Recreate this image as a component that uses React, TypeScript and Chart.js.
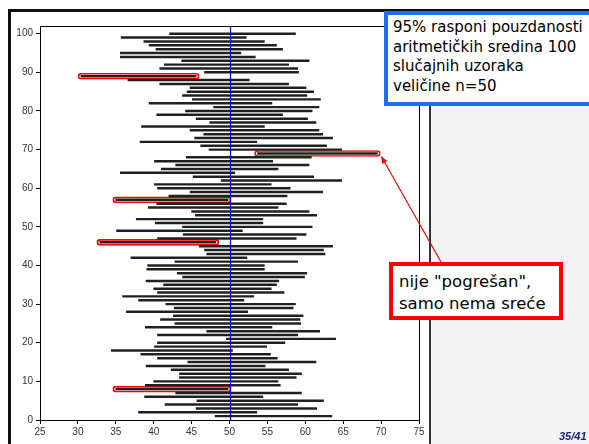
import React, { useEffect, useRef } from "react";
import { Chart, registerables } from "chart.js";

Chart.register(...registerables);

// sample index 1..100
const SAMPLE_IDS = Array.from({ length: 100 }, (_, i) => i + 1);

const LOWER = [
  48.1, 38.0, 45.6, 41.5, 45.7, 38.8, 42.9, 35.0, 38.9, 40.0,
  43.4, 43.4, 42.3, 39.0, 44.5, 40.5, 38.3, 34.4, 40.1, 40.5,
  49.6, 40.5, 47.0, 38.9, 42.8, 40.9, 42.6, 36.4, 42.7, 41.6,
  38.0, 35.9, 40.5, 40.0, 41.3, 39.0, 43.8, 43.1, 39.1, 39.2,
  42.8, 37.0, 47.0, 46.7, 46.0, 32.9, 40.5, 43.9, 35.1, 43.8,
  40.2, 37.7, 45.5, 45.0, 39.3, 40.4, 35.0, 42.0, 44.8, 40.5,
  40.1, 48.9, 45.2, 35.6, 41.0, 42.9, 40.1, 44.3, 53.7, 47.3,
  46.2, 38.2, 45.4, 46.6, 44.8, 38.4, 47.4, 45.6, 40.4, 44.2,
  47.9, 39.4, 45.1, 43.8, 44.4, 44.8, 40.8, 36.6, 30.4, 46.7,
  40.8, 41.4, 43.7, 35.6, 35.6, 40.3, 39.4, 38.7, 35.7, 42.1,
];

const UPPER = [
  63.5, 53.6, 61.5, 59.0, 62.4, 54.4, 59.5, 49.8, 56.7, 56.4,
  58.8, 59.5, 57.8, 54.7, 61.4, 56.3, 55.4, 50.4, 54.9, 57.3,
  64.0, 59.0, 61.9, 55.6, 59.4, 59.3, 59.7, 52.4, 58.4, 58.7,
  51.9, 53.2, 57.2, 55.5, 56.2, 56.5, 59.9, 60.2, 54.6, 54.6,
  59.0, 52.3, 62.6, 62.4, 63.6, 48.2, 58.8, 60.1, 51.7, 60.9,
  54.4, 54.4, 61.5, 60.5, 56.4, 57.5, 49.8, 57.6, 62.3, 58.0,
  55.5, 64.8, 61.1, 50.7, 56.4, 60.5, 55.7, 60.8, 69.5, 64.8,
  62.8, 53.6, 63.6, 62.3, 61.8, 54.6, 61.4, 60.3, 57.0, 60.9,
  61.8, 55.6, 62.0, 60.2, 61.1, 60.1, 57.8, 52.6, 45.6, 59.1,
  59.0, 57.8, 60.5, 53.4, 51.5, 57.0, 56.2, 54.6, 52.2, 58.7,
];

// samples whose interval misses the true mean
const MISSES = [8, 46, 57, 69, 89];
const TRUE_MEAN = 50;
const POINTED_SAMPLE = 69;

const X_TICKS = [25, 30, 35, 40, 45, 50, 55, 60, 65, 70, 75];
const Y_TICKS = [0, 10, 20, 30, 40, 50, 60, 70, 80, 90, 100];

const INFO_LINES = [
  "95% rasponi pouzdanosti",
  "aritmetičkih sredina 100",
  "slučajnih uzoraka",
  "veličine n=50",
];
const NOTE_LINES = ['nije "pogrešan",', "samo nema sreće"];
const PAGE_LABEL = "35/41";

const slidePlugin = {
  id: "slide",
  beforeDraw(chart: any) {
    const ctx = chart.ctx;
    ctx.save();
    ctx.fillStyle = "#ffffff";
    ctx.fillRect(0, 0, chart.width, chart.height);
    ctx.fillStyle = "#f3f3f3";
    ctx.fillRect(431, 11, chart.width - 431, chart.height - 11);
    ctx.fillStyle = "#111";
    ctx.fillRect(8, 9, chart.width - 8, 3);
    ctx.fillRect(8, 9, 3, chart.height - 9);
    ctx.fillStyle = "#333";
    ctx.fillRect(429, 11, 2, chart.height - 11);
    ctx.restore();
  },
  afterDatasetsDraw(chart: any) {
    const ctx = chart.ctx;
    const { top, bottom, right } = chart.chartArea;
    const x = chart.scales.x.getPixelForValue(TRUE_MEAN);
    ctx.save();
    ctx.strokeStyle = "#0000dd";
    ctx.lineWidth = 1.2;
    ctx.beginPath();
    ctx.moveTo(Math.round(x) + 0.5, top);
    ctx.lineTo(Math.round(x) + 0.5, bottom);
    ctx.stroke();
    // plot frame top/right
    ctx.strokeStyle = "#000";
    ctx.lineWidth = 1;
    ctx.beginPath();
    ctx.moveTo(chart.chartArea.left, Math.round(top) + 0.5);
    ctx.lineTo(Math.round(right) + 0.5, Math.round(top) + 0.5);
    ctx.lineTo(Math.round(right) + 0.5, bottom);
    ctx.stroke();
    ctx.restore();
  },
  afterDraw(chart: any) {
    const ctx = chart.ctx;
    const idx = POINTED_SAMPLE - 1;
    const tipX = chart.scales.x.getPixelForValue(UPPER[idx]) + 4;
    const tipY = chart.scales.y.getPixelForValue(POINTED_SAMPLE) + 3;
    const sx = 441;
    const sy = 262;
    const ang = Math.atan2(tipY - sy, tipX - sx);
    ctx.save();
    ctx.strokeStyle = "#ff0000";
    ctx.fillStyle = "#ff0000";
    ctx.lineWidth = 1.2;
    ctx.beginPath();
    ctx.moveTo(sx, sy);
    ctx.lineTo(tipX, tipY);
    ctx.stroke();
    const L = 7;
    const W = 3;
    ctx.beginPath();
    ctx.moveTo(tipX, tipY);
    ctx.lineTo(
      tipX - L * Math.cos(ang) + W * Math.sin(ang),
      tipY - L * Math.sin(ang) - W * Math.cos(ang)
    );
    ctx.lineTo(
      tipX - L * Math.cos(ang) - W * Math.sin(ang),
      tipY - L * Math.sin(ang) + W * Math.cos(ang)
    );
    ctx.closePath();
    ctx.fill();
    ctx.restore();
  },
};

export default function App() {
  const ref = useRef<HTMLCanvasElement | null>(null);

  useEffect(() => {
    document.body.style.margin = "0";
    const canvas = ref.current;
    if (!canvas) return;

    const intervals = SAMPLE_IDS.map((id, i) => ({
      y: id,
      x: [LOWER[i], UPPER[i]],
    }));
    const outlines = MISSES.map((id) => ({
      y: id,
      x: [LOWER[id - 1] - 0.4, UPPER[id - 1] + 0.4],
    }));

    const tickFont = { family: "'Liberation Sans', Arial, sans-serif", size: 10 };

    const chart = new Chart(canvas, {
      type: "bar",
      data: {
        datasets: [
          {
            data: intervals as any,
            backgroundColor: "#202020",
            borderWidth: 0,
            barThickness: 1.8,
            grouped: false,
          } as any,
          {
            data: outlines as any,
            backgroundColor: "rgba(255,255,255,0)",
            borderColor: "#ff0000",
            borderWidth: 1,
            borderSkipped: false,
            borderRadius: 3,
            barThickness: 6,
            grouped: false,
          } as any,
        ],
      },
      options: {
        indexAxis: "y",
        responsive: false,
        animation: false,
        devicePixelRatio: 1,
        layout: { padding: { left: 8, right: 170, top: 26, bottom: 0 } },
        plugins: {
          legend: { display: false },
          tooltip: { enabled: false },
        },
        scales: {
          x: {
            type: "linear",
            min: 25,
            max: 75,
            offset: false,
            afterBuildTicks: (s: any) => {
              s.ticks = X_TICKS.map((v) => ({ value: v }));
            },
            afterFit: (s: any) => {
              s.height = 24;
            },
            grid: {
              display: true,
              drawOnChartArea: false,
              drawTicks: true,
              tickLength: 4,
              color: "#000",
              offset: false,
            },
            border: { display: true, color: "#000", width: 1 },
            ticks: {
              color: "#333",
              font: tickFont,
              padding: 2,
              maxRotation: 0,
              autoSkip: false,
            },
          },
          y: {
            type: "linear",
            min: 0,
            max: 102,
            offset: false,
            afterBuildTicks: (s: any) => {
              s.ticks = Y_TICKS.map((v) => ({ value: v }));
            },
            afterFit: (s: any) => {
              s.width = 32;
            },
            grid: {
              display: true,
              drawOnChartArea: false,
              drawTicks: true,
              tickLength: 4,
              color: "#000",
              offset: false,
            },
            border: { display: true, color: "#000", width: 1 },
            ticks: {
              color: "#333",
              font: tickFont,
              padding: 3,
              autoSkip: false,
            },
          },
        },
      } as any,
      plugins: [slidePlugin as any],
    });

    return () => chart.destroy();
  }, []);

  return (
    <div style={{ position: "relative", width: 589, height: 444, overflow: "hidden" }}>
      <canvas ref={ref} width={589} height={444} style={{ display: "block" }} />
      <div
        style={{
          position: "absolute",
          left: 384,
          top: 11,
          width: 220,
          height: 95,
          boxSizing: "border-box",
          border: "4px solid #1f6fef",
          background: "#fff",
          padding: "3px 0 0 5px",
          fontFamily: "'DejaVu Sans', sans-serif",
          fontSize: 15,
          lineHeight: "19.5px",
          color: "#000",
          whiteSpace: "nowrap",
        }}
      >
        {INFO_LINES.map((t) => (
          <div key={t}>{t}</div>
        ))}
      </div>
      <div
        style={{
          position: "absolute",
          left: 389,
          top: 262,
          width: 174,
          height: 58,
          boxSizing: "border-box",
          border: "4px solid #ff0000",
          background: "#fff",
          padding: "5px 0 0 6px",
          fontFamily: "'DejaVu Sans', sans-serif",
          fontSize: 16.5,
          lineHeight: "22px",
          color: "#000",
          whiteSpace: "nowrap",
        }}
      >
        {NOTE_LINES.map((t) => (
          <div key={t}>{t}</div>
        ))}
      </div>
      <div
        style={{
          position: "absolute",
          left: 559,
          top: 430,
          fontFamily: "'Liberation Sans', Arial, sans-serif",
          fontSize: 11,
          fontWeight: "bold",
          fontStyle: "italic",
          color: "#1a237e",
          whiteSpace: "nowrap",
        }}
      >
        {PAGE_LABEL}
      </div>
    </div>
  );
}
